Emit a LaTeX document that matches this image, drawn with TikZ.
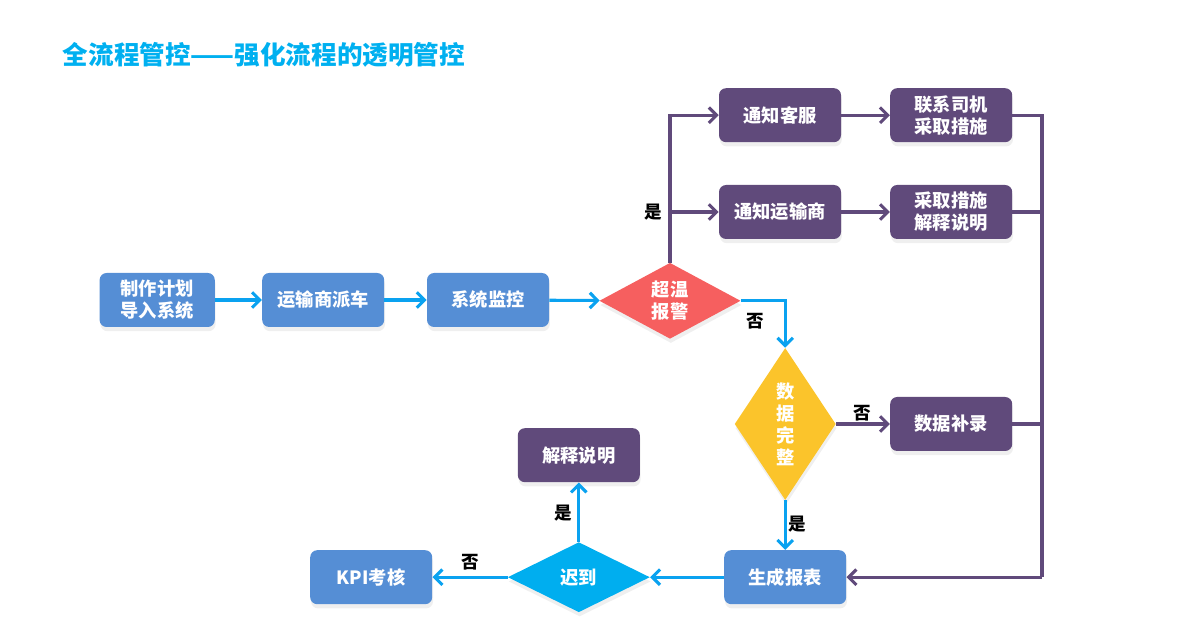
\documentclass[tikz,border=0pt]{standalone}
\usepackage{fontspec}
\newfontfamily\cjk{Noto Sans CJK SC}
\usetikzlibrary{arrows.meta,positioning,shapes.geometric,shadows}

\definecolor{boxblue}{HTML}{558ED5}
\definecolor{boxpurple}{HTML}{604A7B}
\definecolor{alarmred}{HTML}{F65F5F}
\definecolor{checkyellow}{HTML}{FBC42B}
\definecolor{lateblue}{HTML}{00AEEF}
\definecolor{flowblue}{HTML}{0AA2F0}
\definecolor{titleblue}{HTML}{00B0F0}

\begin{document}
\begin{tikzpicture}[
  font=\cjk\bfseries\fontsize{13}{15.6}\selectfont,
  box/.style={rounded corners=5pt, align=center, text=white, minimum width=3.05cm, minimum height=1.35cm, inner sep=2pt,
    drop shadow={shadow xshift=0.6pt, shadow yshift=-3pt, fill=black!12}},
  task/.style={box, fill=boxblue},
  act/.style={box, fill=boxpurple},
  choice/.style={diamond, align=center, text=white, inner sep=0pt,
    drop shadow={shadow xshift=0.6pt, shadow yshift=-3pt, fill=black!12}},
  flow/.style={-{Straight Barb[length=5.5pt,width=11pt]}, line width=2.2pt, draw=flowblue},
  pflow/.style={-{Straight Barb[length=5.5pt,width=11pt]}, line width=2.2pt, draw=boxpurple},
  pline/.style={line width=2.2pt, draw=boxpurple},
  tag/.style={text=black, font=\cjk\bfseries\fontsize{12.5}{14}\selectfont}
]
\useasboundingbox (0,0) rectangle (29.475,-15.775);

\node[anchor=west, text=titleblue, font=\cjk\bfseries\fontsize{18.2}{21}\selectfont] (title) at (1.45,-1.38)
  {全流程管控——强化流程的透明管控};

% main line
\node[task, minimum width=2.88cm] (plan) at (3.93,-7.5) {制作计划\\导入系统};
\node[task] (dispatch) at (8.08,-7.5) {运输商派车};
\node[task] (monitor) at (12.2,-7.5) {系统监控};
\node[choice, fill=alarmred, minimum width=3.53cm, minimum height=1.83cm] (overtemp) at (16.75,-7.52) {超温\\报警};

% alarm handling
\node[act] (notifycs) at (19.5,-2.88) {通知客服};
\node[act] (contact) at (23.78,-2.88) {联系司机\\采取措施};
\node[act] (notifycarrier) at (19.5,-5.3) {通知运输商};
\node[act] (explainA) at (23.78,-5.3) {采取措施\\解释说明};

% data check
\node[choice, fill=checkyellow, minimum width=2.38cm, minimum height=3.8cm] (complete) at (19.63,-10.6) {数\\据\\完\\整};
\node[act] (supplement) at (23.78,-10.6) {数据补录};

% report and KPI
\node[task] (report) at (19.63,-14.43) {生成报表};
\node[choice, fill=lateblue, minimum width=3.55cm, minimum height=1.75cm] (late) at (14.47,-14.43) {迟到};
\node[act] (explainB) at (14.47,-11.38) {解释说明};
\node[task] (kpi) at (9.28,-14.43) {KPI考核};

\coordinate (bus) at (26.05,-14.43);

\draw[flow] (plan) -- (dispatch);
\draw[flow] (dispatch) -- (monitor);
\draw[flow] (monitor) -- (overtemp);

\draw[pflow] (overtemp.north) |- (notifycs.west);
\draw[pflow] (overtemp.north) |- (notifycarrier.west);
\node[tag, left=2pt of overtemp.north |- notifycarrier.west] (yesA) {是};
\draw[pflow] (notifycs) -- (contact);
\draw[pflow] (notifycarrier) -- (explainA);

\draw[pline] (contact.east) -| (bus);
\draw[pline] (explainA.east) -| (bus);
\draw[pline] (supplement.east) -| (bus);
\draw[pflow] (bus) -- (report.east);

\draw[flow] (overtemp.east) -| (complete.north);
\node[tag] (noA) at (18.88,-8.02) {否};

\draw[pflow] (complete.east) -- (supplement.west);
\node[tag] (noB) at (21.55,-10.33) {否};

\draw[flow] (complete.south) -- (report.north);
\node[tag] (yesB) at (19.93,-13.1) {是};

\draw[flow] (report.west) -- (late.east);
\draw[flow] (late.north) -- (explainB.south);
\node[tag] (yesC) at (14.08,-12.83) {是};
\draw[flow] (late.west) -- (kpi.east);
\node[tag] (noC) at (11.75,-14.05) {否};

\end{tikzpicture}
\end{document}
